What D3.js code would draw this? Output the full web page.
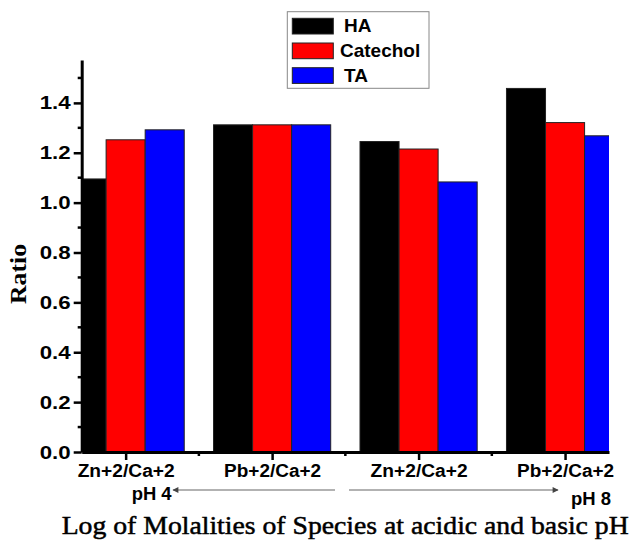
<!DOCTYPE html>
<html>
<head>
<meta charset="utf-8">
<script src="https://cdn.jsdelivr.net/npm/d3@7"></script>
<style>
  html, body { margin: 0; padding: 0; background: #fff; }
  svg { display: block; }
</style>
</head>
<body>
<svg id="chart" width="632" height="540"></svg>
<script>
// ---- data ----
const categories = ["Zn+2/Ca+2", "Pb+2/Ca+2", "Zn+2/Ca+2", "Pb+2/Ca+2"];
const seriesNames = ["HA", "Catechol", "TA"];
const HA = [1.095, 1.312, 1.245, 1.458];
const Catechol = [1.252, 1.312, 1.215, 1.321];
const TA = [1.292, 1.312, 1.083, 1.268];
const yTicks = [0.0, 0.2, 0.4, 0.6, 0.8, 1.0, 1.2, 1.4];
const yMinorTicks = [0.1, 0.3, 0.5, 0.7, 0.9, 1.1, 1.3, 1.5];
const xMinorTicks = [1.5, 2.5, 3.5];
const colors = ["#000000", "#ff0000", "#0000ff"];
const xTitle = "Log of Molalities of Species at acidic and basic pH";
const yTitle = "Ratio";
const leftNote = "pH 4";
const rightNote = "pH 8";

const series = [HA, Catechol, TA];

const svg = d3.select("#chart");
const sans = "'Liberation Sans', Arial, Helvetica, sans-serif";
const serif = "'Liberation Serif', 'Times New Roman', serif";

const x = d3.scaleLinear().domain([0.7, 4.3]).range([81.7, 609]);
const y = d3.scaleLinear().domain([0, 1.572]).range([452, 60]);

// clip
svg.append("defs").append("clipPath").attr("id", "plotclip")
  .append("rect").attr("x", x(0.7)).attr("y", y(1.572))
  .attr("width", x(4.3) - x(0.7)).attr("height", y(0) - y(1.572));

const groupW = 0.8, barW = groupW / 3;
const bars = svg.append("g").attr("clip-path", "url(#plotclip)");
series.forEach((vals, si) => {
  bars.selectAll(null).data(vals).enter().append("rect")
    .attr("x", (d, i) => x(i + 1 - groupW / 2 + si * barW))
    .attr("width", x(0.7 + barW) - x(0.7))
    .attr("y", d => y(d))
    .attr("height", d => y(0) - y(d))
    .attr("fill", colors[si])
    .attr("stroke", "#222")
    .attr("stroke-width", 1);
});

// y axis
const yAxis = svg.append("g").attr("transform", `translate(${x(0.7)},0)`)
  .call(d3.axisLeft(y).tickValues(yTicks).tickFormat(d3.format(".1f"))
    .tickSize(8).tickSizeOuter(0).tickPadding(3));
yAxis.select(".domain").attr("stroke", "#000").attr("stroke-width", 3);
yAxis.selectAll(".tick line").attr("stroke", "#000").attr("stroke-width", 2.5);
yAxis.selectAll(".tick text").attr("font-family", sans).attr("font-weight", "bold")
  .attr("font-size", 19).attr("fill", "#000")
  .attr("textLength", 31).attr("lengthAdjust", "spacingAndGlyphs");
yAxis.selectAll(null).data(yMinorTicks).enter().append("line")
  .attr("x1", 0).attr("x2", -4).attr("y1", d => y(d)).attr("y2", d => y(d))
  .attr("stroke", "#000").attr("stroke-width", 2.5);

// x axis
const xAxis = svg.append("g").attr("transform", `translate(0,${y(0)})`)
  .call(d3.axisBottom(x).tickValues([1, 2, 3, 4]).tickFormat(d => categories[d - 1])
    .tickSize(8).tickSizeOuter(0).tickPadding(4));
xAxis.select(".domain").attr("stroke", "#000").attr("stroke-width", 3);
xAxis.selectAll(".tick line").attr("stroke", "#000").attr("stroke-width", 2.5);
xAxis.selectAll(".tick text").attr("font-family", sans).attr("font-weight", "bold")
  .attr("font-size", 18).attr("fill", "#000")
  .attr("textLength", 97).attr("lengthAdjust", "spacingAndGlyphs");
xAxis.selectAll(null).data(xMinorTicks).enter().append("line")
  .attr("x1", d => x(d)).attr("x2", d => x(d)).attr("y1", 0).attr("y2", 4)
  .attr("stroke", "#000").attr("stroke-width", 2.5);

// pH notes and arrows
const defs = svg.select("defs");
defs.append("marker").attr("id", "arrowhead").attr("viewBox", "0 0 10 10")
  .attr("refX", 9).attr("refY", 5).attr("markerWidth", 7).attr("markerHeight", 6)
  .attr("markerUnits", "userSpaceOnUse").attr("orient", "auto")
  .append("path").attr("d", "M0,0 L10,5 L0,10 z").attr("fill", "#444");

svg.append("text").attr("x", x(1) + 46).attr("y", 500).attr("text-anchor", "end")
  .attr("font-family", sans).attr("font-weight", "bold").attr("font-size", 18)
  .attr("fill", "#000").attr("textLength", 40).attr("lengthAdjust", "spacingAndGlyphs")
  .text(leftNote);
svg.append("text").attr("x", x(4) + 46).attr("y", 505).attr("text-anchor", "end")
  .attr("font-family", sans).attr("font-weight", "bold").attr("font-size", 18)
  .attr("fill", "#000").attr("textLength", 40).attr("lengthAdjust", "spacingAndGlyphs")
  .text(rightNote);

svg.append("line").attr("x1", 335).attr("x2", 173).attr("y1", 490).attr("y2", 490)
  .attr("stroke", "#999").attr("stroke-width", 1.5).attr("marker-end", "url(#arrowhead)");
svg.append("line").attr("x1", 349).attr("x2", 558).attr("y1", 490).attr("y2", 490)
  .attr("stroke", "#999").attr("stroke-width", 1.5).attr("marker-end", "url(#arrowhead)");

// axis titles
svg.append("text").attr("x", 61.7).attr("y", 534)
  .attr("font-family", serif).attr("font-size", 26).attr("fill", "#000")
  .attr("stroke", "#000").attr("stroke-width", 0.5)
  .attr("textLength", 567).attr("lengthAdjust", "spacingAndGlyphs")
  .text(xTitle);
svg.append("text").attr("transform", "translate(26,274) rotate(-90)")
  .attr("text-anchor", "middle")
  .attr("font-family", serif).attr("font-size", 24).attr("font-weight", "bold").attr("fill", "#000")
  .attr("textLength", 60).attr("lengthAdjust", "spacingAndGlyphs")
  .text(yTitle);

// legend
const lg = svg.append("g");
lg.append("rect").attr("x", 287.3).attr("y", 11.7).attr("width", 141.7).attr("height", 76.6)
  .attr("fill", "#fff").attr("stroke", "#888").attr("stroke-width", 1);
seriesNames.forEach((name, i) => {
  const yy = 18.3 + i * 24.7;
  lg.append("text").attr("x", name === "Catechol" ? 340 : 344).attr("y", yy + 14)
    .attr("font-family", sans).attr("font-weight", "bold").attr("font-size", 19)
    .attr("fill", "#000").text(name);
  lg.append("rect").attr("x", 292.3).attr("y", yy).attr("width", 41).attr("height", 15.7)
    .attr("fill", colors[i]).attr("stroke", "#222").attr("stroke-width", 1);
});
</script>
</body>
</html>
